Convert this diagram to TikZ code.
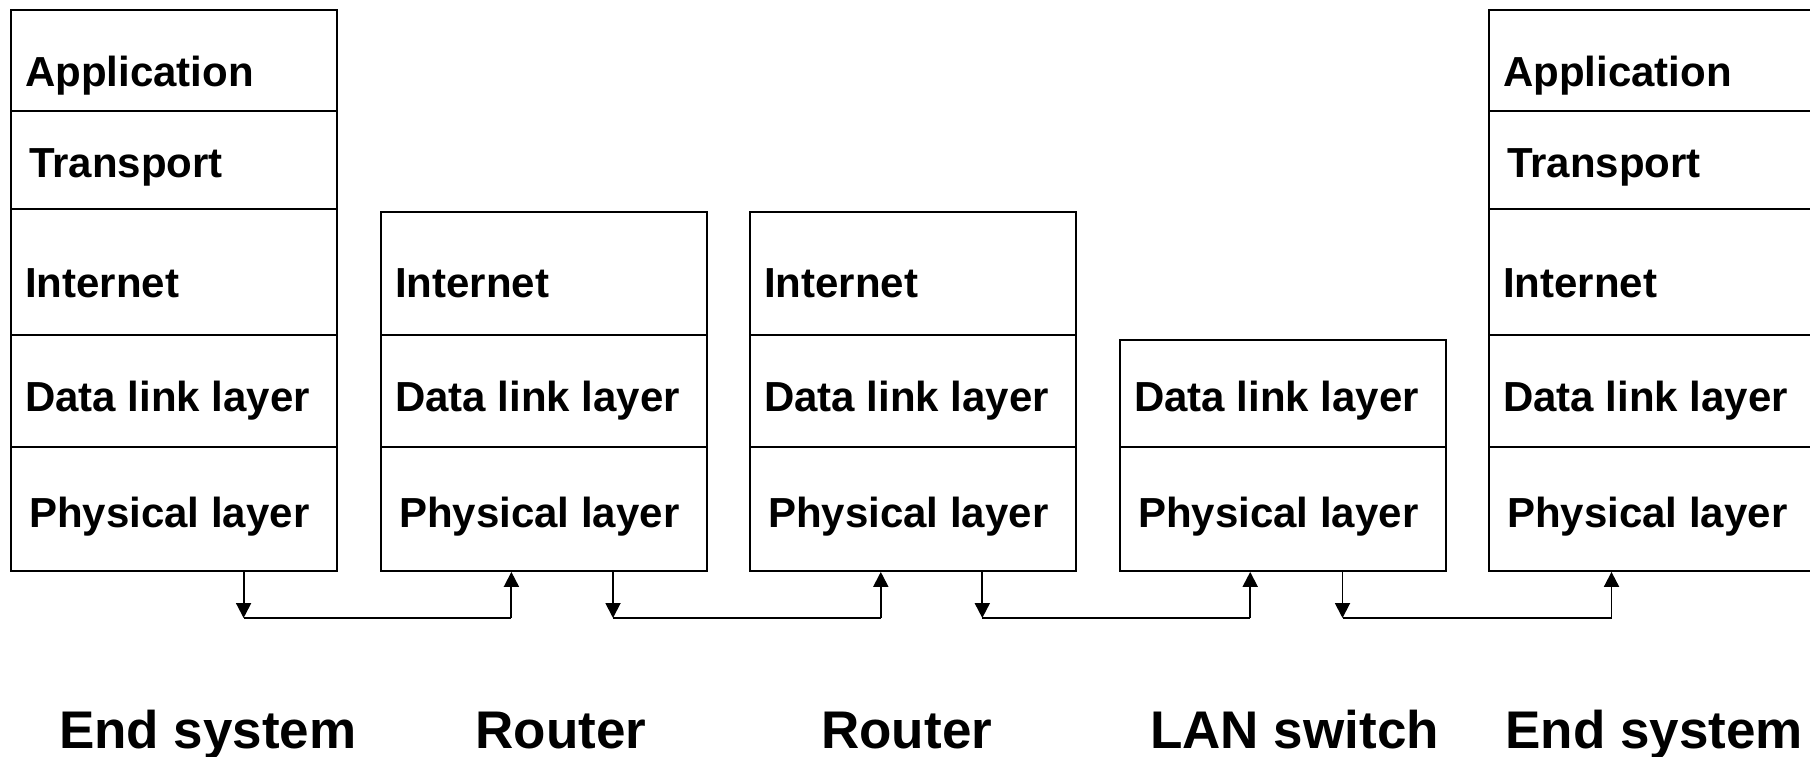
\documentclass[tikz,border=0pt]{standalone}
\usepackage{fontspec}
\setmainfont{Liberation Sans}
\usetikzlibrary{arrows.meta}
\begin{document}
\begin{tikzpicture}[x=1pt,y=-1pt,
  cell/.style={draw, line width=1.9pt, inner sep=0pt, anchor=north west, minimum width=326pt},
  lay/.style={anchor=base west, inner sep=0pt, font=\fontsize{42}{50}\selectfont\bfseries},
  sys/.style={anchor=base, inner sep=0pt, font=\fontsize{53}{60}\selectfont\bfseries},
  conn/.style={line width=1.9pt, -{Triangle[length=15pt,width=15pt]}},
  seg/.style={line width=1.9pt}]
\useasboundingbox (0,0) rectangle (1810,756);
% End system 1
\node[cell, minimum height=101pt] (e1a) at (10,9) {};
\node[cell, minimum height=98pt]  (e1t) at (10,110) {};
\node[cell, minimum height=126pt] (e1i) at (10,208) {};
\node[cell, minimum height=112pt] (e1d) at (10,334) {};
\node[cell, minimum height=124pt] (e1p) at (10,446) {};
\node[lay] (e1at) at (25,86) {Application};
\node[lay] (e1tt) at (29,177) {Transport};
\node[lay] (e1it) at (25,297) {Internet};
\node[lay] (e1dt) at (25,411) {Data link layer};
\node[lay] (e1pt) at (29,527) {Physical layer};
% Router 1
\node[cell, minimum height=123pt] (r1i) at (380,211) {};
\node[cell, minimum height=112pt] (r1d) at (380,334) {};
\node[cell, minimum height=124pt] (r1p) at (380,446) {};
\node[lay] (r1it) at (395,297) {Internet};
\node[lay] (r1dt) at (395,411) {Data link layer};
\node[lay] (r1pt) at (399,527) {Physical layer};
% Router 2
\node[cell, minimum height=123pt] (r2i) at (749,211) {};
\node[cell, minimum height=112pt] (r2d) at (749,334) {};
\node[cell, minimum height=124pt] (r2p) at (749,446) {};
\node[lay] (r2it) at (764,297) {Internet};
\node[lay] (r2dt) at (764,411) {Data link layer};
\node[lay] (r2pt) at (768,527) {Physical layer};
% LAN switch
\node[cell, minimum height=107pt] (s1d) at (1119,339) {};
\node[cell, minimum height=124pt] (s1p) at (1119,446) {};
\node[lay] (s1dt) at (1134,411) {Data link layer};
\node[lay] (s1pt) at (1138,527) {Physical layer};
% End system 2
\node[cell, minimum height=101pt, minimum width=334pt] (e2a) at (1488,9) {};
\node[cell, minimum height=98pt, minimum width=334pt]  (e2t) at (1488,110) {};
\node[cell, minimum height=126pt, minimum width=334pt] (e2i) at (1488,208) {};
\node[cell, minimum height=112pt, minimum width=334pt] (e2d) at (1488,334) {};
\node[cell, minimum height=124pt, minimum width=334pt] (e2p) at (1488,446) {};
\node[lay] (e2at) at (1503,86) {Application};
\node[lay] (e2tt) at (1507,177) {Transport};
\node[lay] (e2it) at (1503,297) {Internet};
\node[lay] (e2dt) at (1503,411) {Data link layer};
\node[lay] (e2pt) at (1507,527) {Physical layer};
% connectors
\coordinate (k1) at (243.6,618); \coordinate (u1) at (511.4,618);
\coordinate (k2) at (613,618);   \coordinate (u2) at (880.8,618);
\coordinate (k3) at (982.3,618); \coordinate (u3) at (1250.2,618);
\coordinate (k4) at (1342.5,618);\coordinate (u4) at (1611.5,618);
\draw[conn] (e1p.south -| k1) -- (k1);
\draw[seg] (k1) -- (u1);
\draw[conn] (u1) -- (u1 |- r1p.south);
\draw[conn] (r1p.south -| k2) -- (k2);
\draw[seg] (k2) -- (u2);
\draw[conn] (u2) -- (u2 |- r2p.south);
\draw[conn] (r2p.south -| k3) -- (k3);
\draw[seg] (k3) -- (u3);
\draw[conn] (u3) -- (u3 |- s1p.south);
\draw[conn] (s1p.south -| k4) -- (k4);
\draw[seg] (k4) -- (u4);
\draw[conn] (u4) -- (u4 |- e2p.south);
% labels
\node[sys] (l1) at (207.8,748) {End system};
\node[sys] (l2) at (561,748) {Router};
\node[sys] (l3) at (906.7,748) {Router};
\node[sys] (l4) at (1294.6,748) {LAN switch};
\node[sys] (l5) at (1654.2,748) {End system};
\end{tikzpicture}
\end{document}
